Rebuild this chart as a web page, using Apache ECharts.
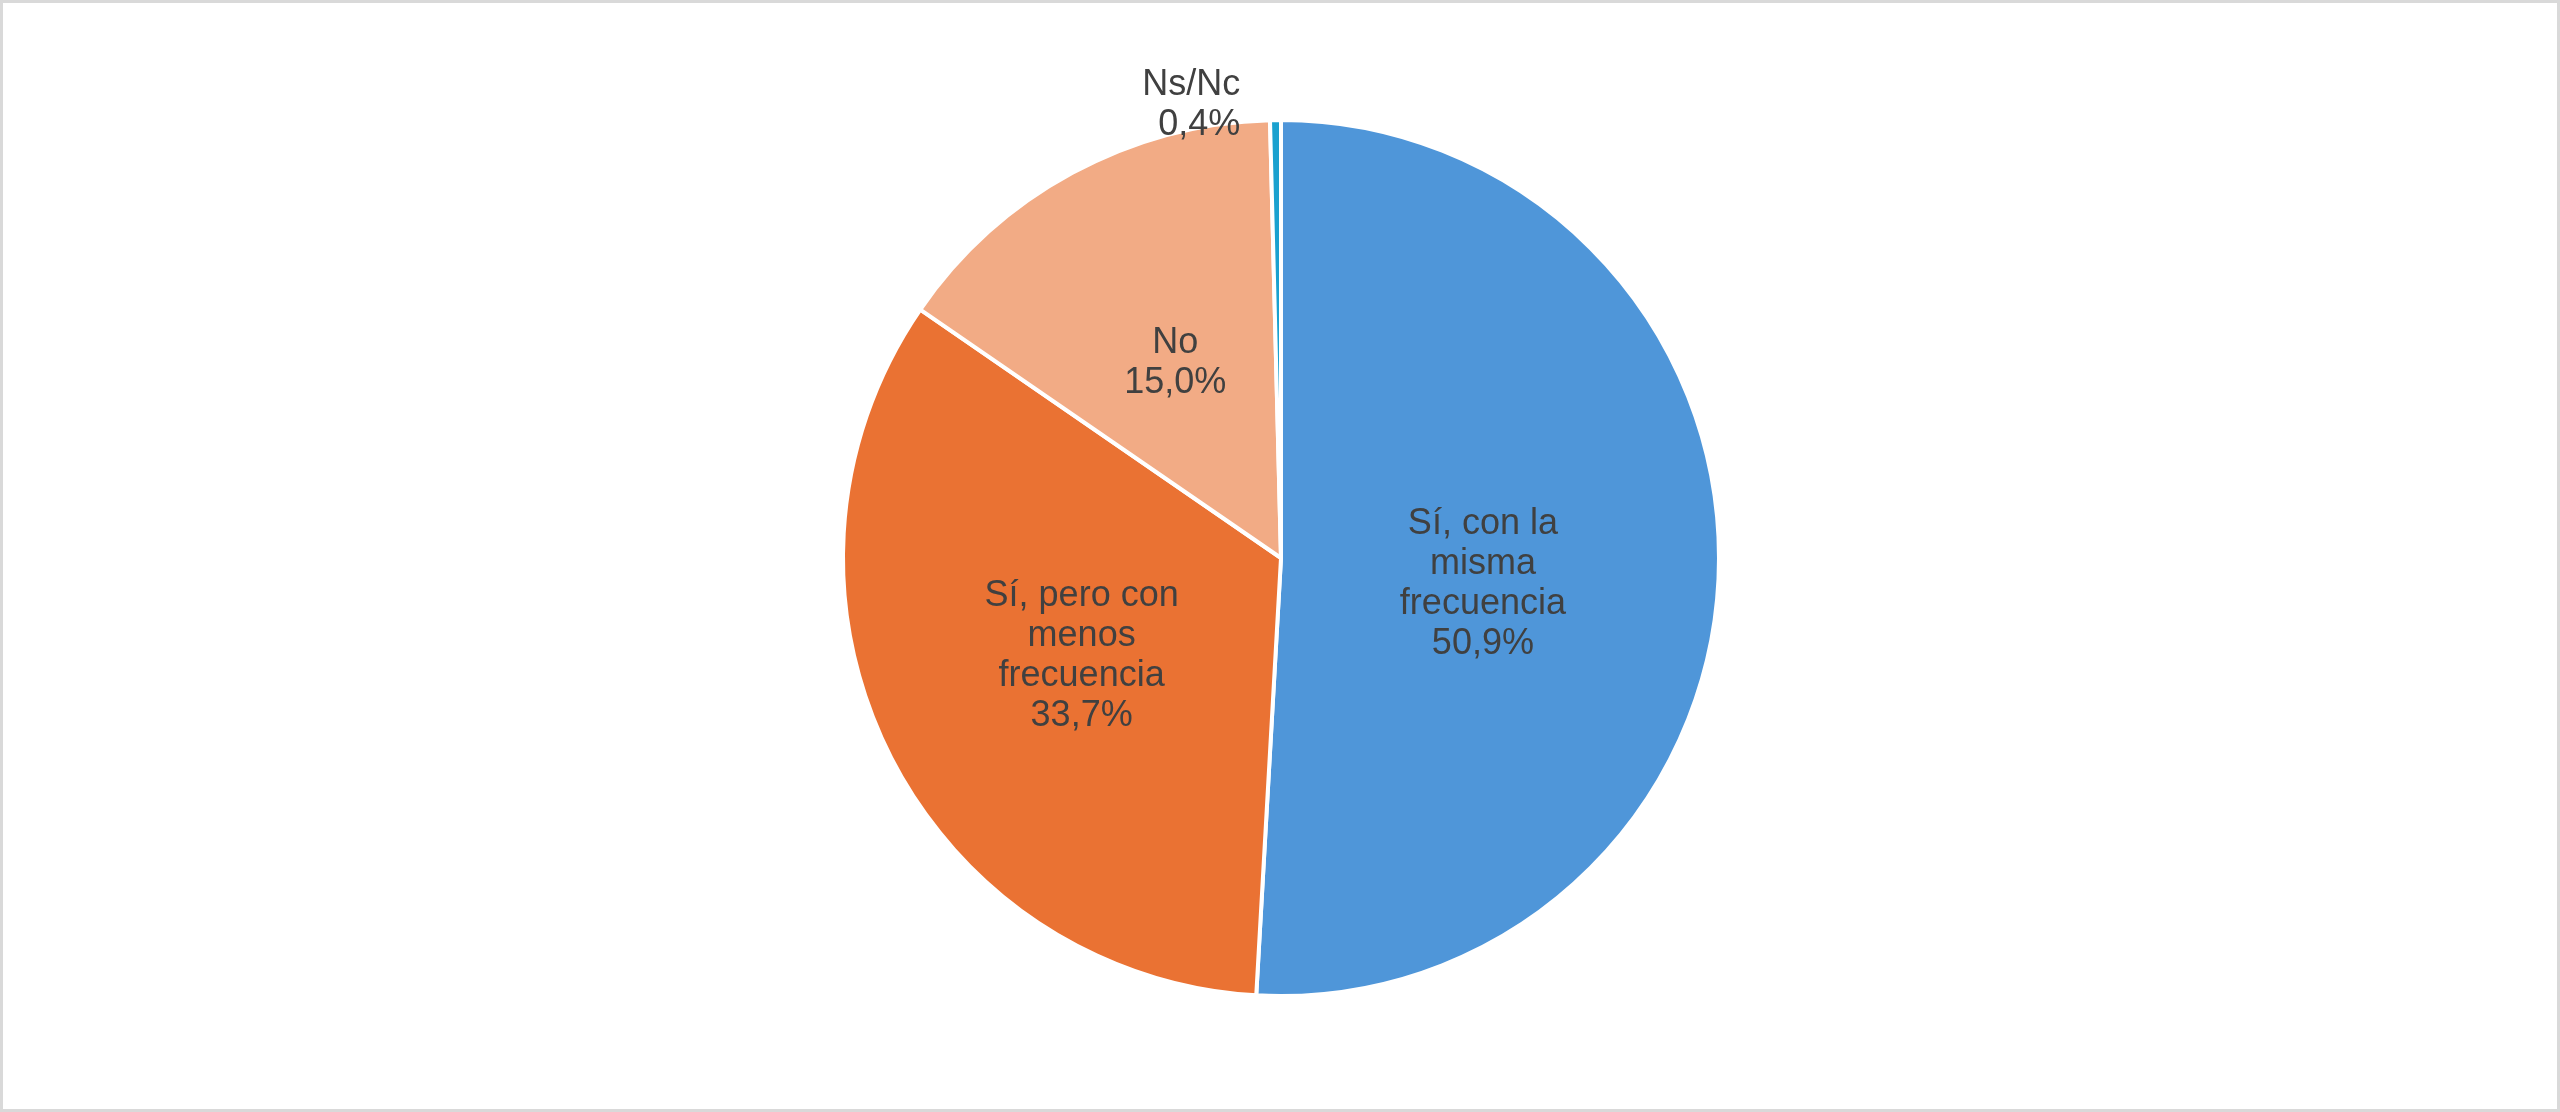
<!DOCTYPE html><html><head><meta charset="utf-8"><script src="https://cdn.jsdelivr.net/npm/echarts@6/dist/echarts.min.js"></script>
<style>html,body{margin:0;padding:0;background:#fff}#c{width:2560px;height:1112px;box-sizing:border-box;border:3px solid #d9d9d9}</style></head><body><div id="c"></div><script>
const categories=["Sí, con la\nmisma\nfrecuencia","Sí, pero con\nmenos\nfrecuencia","No","Ns/Nc"];
const values=[50.9,33.7,15.0,0.4];
const colors=["#4F96D9","#EA7233","#F2AB85","#1AA1CF"];
const chart=echarts.init(document.getElementById('c'));
chart.setOption({
 animation:false,
 series:[{type:'pie',center:[1278,555],radius:438,startAngle:90,clockwise:true,
  itemStyle:{borderColor:'#fff',borderWidth:4},
  label:{position:'inside',fontFamily:'Liberation Sans, Arial',fontSize:36,lineHeight:40,color:'#404040',
    formatter:p=>p.name+'\n'+p.value.toFixed(1).replace('.',',')+'%'},
  labelLine:{show:false},
  data:categories.map((n,i)=>({name:n,value:values[i],itemStyle:{color:colors[i]},
    label:i===3?{position:'outside',distance:10,align:'center'}:(i===0?{offset:[-20,20]}:{})
  }))
 }]
});
</script></body></html>
